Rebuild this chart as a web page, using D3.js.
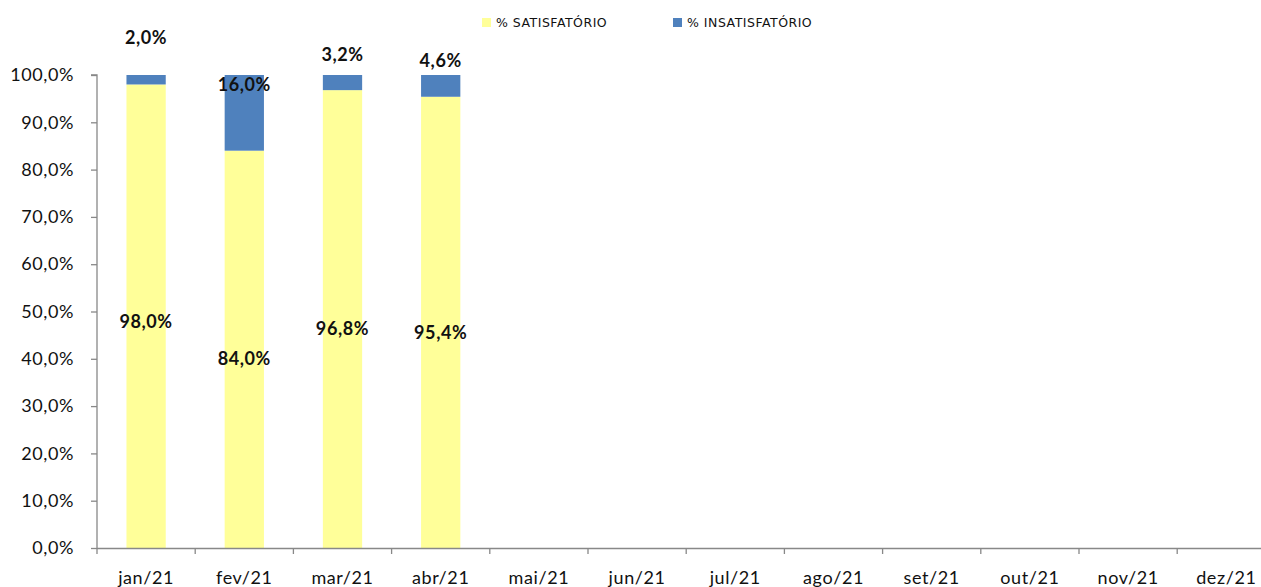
<!DOCTYPE html>
<html>
<head>
<meta charset="utf-8">
<script src="https://cdn.jsdelivr.net/npm/d3@7"></script>
<style>
  body { margin: 0; background: #fff; }
  svg { display: block; }
</style>
</head>
<body>
<svg id="chart"></svg>
<script>
const months = ["jan/21", "fev/21", "mar/21", "abr/21", "mai/21", "jun/21", "jul/21", "ago/21", "set/21", "out/21", "nov/21", "dez/21"];
const satisfatorio = [98.0, 84.0, 96.8, 95.4];
const insatisfatorio = [2.0, 16.0, 3.2, 4.6];
const yTicks = [0, 10, 20, 30, 40, 50, 60, 70, 80, 90, 100];
const seriesNames = ["% SATISFATÓRIO", "% INSATISFATÓRIO"];

// label nudges (px) as placed by hand in the original
const satLabelDy = [5, 9, 10, 10];
const insatLabelDy = [-37, 10, -20, -14];

const W = 1261, H = 587;
const margin = { top: 75, left: 97, bottom: 39 };
const colors = ["#FFFF99", "#4F81BD"];
const fontFam = "Lato, 'Open Sans', sans-serif";

const svg = d3.select("#chart").attr("width", W).attr("height", H);

const x = d3.scaleBand().domain(months).range([margin.left, margin.left + 12 * 98.2]).padding(0);
const y = d3.scaleLinear().domain([0, 100]).range([H - margin.bottom, margin.top]);
const fmt = v => d3.format(".1f")(v).replace(".", ",") + "%";
const barW = x.bandwidth() * 0.4;

const rows = satisfatorio.map((s, i) => ({ month: months[i], sat: s, insat: insatisfatorio[i], i }));

// bars
const g = svg.append("g");
g.selectAll(".sat").data(rows).enter().append("rect")
  .attr("x", d => x(d.month) + (x.bandwidth() - barW) / 2)
  .attr("y", d => y(d.sat))
  .attr("width", barW)
  .attr("height", d => y(0) - y(d.sat))
  .attr("fill", colors[0]);
g.selectAll(".insat").data(rows).enter().append("rect")
  .attr("x", d => x(d.month) + (x.bandwidth() - barW) / 2)
  .attr("y", d => y(d.sat + d.insat))
  .attr("width", barW)
  .attr("height", d => y(d.sat) - y(d.sat + d.insat))
  .attr("fill", colors[1]);

// axes
const yAxis = svg.append("g")
  .attr("transform", `translate(${margin.left},0)`)
  .call(d3.axisLeft(y).tickValues(yTicks).tickSize(6).tickPadding(17).tickFormat(fmt));
const xAxis = svg.append("g")
  .attr("transform", `translate(0,${y(0)})`)
  .call(d3.axisBottom(x).tickSize(6).tickPadding(17).tickSizeOuter(0));
xAxis.selectAll(".tick line").attr("transform", `translate(${-x.bandwidth() / 2},0)`);
xAxis.select(".domain").attr("d", `M${margin.left},0.5H${W}`);
yAxis.select(".domain").attr("d", `M-6,${y(100)}H0V${y(0)}`);
[yAxis, xAxis].forEach(a => {
  a.selectAll("path, line").attr("stroke", "#888").attr("stroke-width", 1.3);
  a.selectAll("text").attr("fill", "#111").style("font-family", fontFam)
    .style("font-size", "18px").style("letter-spacing", "0.6px");
});

// data labels
const lab = svg.append("g").style("font-family", fontFam).style("font-weight", "bold")
  .style("font-size", "18px").style("letter-spacing", "0.6px")
  .attr("text-anchor", "middle").attr("fill", "#111");
lab.selectAll(".ls").data(rows).enter().append("text")
  .attr("x", d => x(d.month) + x.bandwidth() / 2)
  .attr("y", d => y(d.sat / 2) + satLabelDy[d.i])
  .attr("dy", "0.35em")
  .text(d => fmt(d.sat));
lab.selectAll(".li").data(rows).enter().append("text")
  .attr("x", d => x(d.month) + x.bandwidth() / 2)
  .attr("y", d => y(100) + insatLabelDy[d.i])
  .attr("dy", "0.35em")
  .text(d => fmt(d.insat));

// legend
const legX = [482, 673];
const leg = svg.append("g");
seriesNames.forEach((n, i) => {
  leg.append("rect").attr("x", legX[i]).attr("y", 18).attr("width", 9).attr("height", 9).attr("fill", colors[i]);
  leg.append("text").attr("x", legX[i] + 14).attr("y", 22.5).attr("dy", "0.35em")
    .style("font-family", "'DejaVu Sans', Verdana, sans-serif").style("font-size", "12.5px")
    .style("letter-spacing", "0.5px")
    .attr("fill", "#111").text(n);
});
</script>
</body>
</html>
